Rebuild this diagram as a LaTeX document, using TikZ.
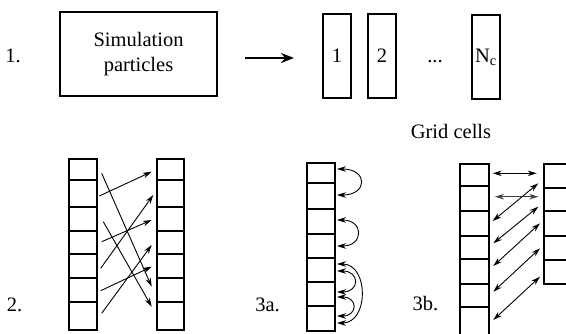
\documentclass[tikz,border=0pt]{standalone}
\usepackage{fontspec}
\setmainfont{Liberation Serif}
\usetikzlibrary{arrows.meta}
\begin{document}
\begin{tikzpicture}[x=1pt,y=-1pt,
  lbl/.style={font=\fontsize{20.5}{25}\selectfont, inner sep=0pt},
  cellbox/.style={draw, line width=1.8pt},
  arr/.style={line width=0.9pt, -{Stealth[length=9pt,width=5.5pt]}},
  darr/.style={line width=0.9pt, {Stealth[length=9pt,width=5.5pt]}-{Stealth[length=9pt,width=5.5pt]}},
]
\useasboundingbox (0,0) rectangle (566,333);
\clip (0,0) rectangle (566,333);

% ---- row 1
\node[lbl] (l1) at (13,56) {1.};
\node[cellbox, lbl, minimum width=157pt, minimum height=84pt, align=center] (sim) at (138.5,54) {Simulation\\particles};
\coordinate (a1) at (245,58);
\coordinate (a2) at (294,58);
\draw[line width=1.8pt, -{Stealth[length=13pt,width=10pt]}] (a1) -- (a2);
\node[cellbox, lbl, minimum width=28pt, minimum height=84pt] (c1) at (337,56) {1};
\node[cellbox, lbl, minimum width=28pt, minimum height=84pt] (c2) at (382,56) {2};
\node[lbl] (dots) at (435,62) {...};
\node[cellbox, lbl, minimum width=28pt, minimum height=84pt] (cN) at (486,57) {N\textsubscript{c}};
\node[lbl] (gc) at (451,131) {Grid cells};

% ---- panel 2
\node[lbl] (l2) at (14.5,305) {2.};
\foreach \a/\b in {159/180,180/207,207/231,231/254,254/278,278/302,302/330}{
  \draw[cellbox] (69,\a) rectangle (97,\b);
  \draw[cellbox] (157,\a) rectangle (184,\b);
}
\foreach \sx/\sy/\ex/\ey in {99.3/196/151.7/171.7, 100.7/268.3/153.3/195, 101.7/241.7/151.7/220,
  101.7/313.3/151.7/245, 100.7/290.7/151.7/266.7, 101.7/173.3/151.7/286.7, 103.3/221.7/151.7/306.7}{
  \draw[arr] (\sx,\sy) -- (\ex,\ey);
}

% ---- panel 3a
\node[lbl] (l3a) at (267.5,305) {3a.};
\foreach \a/\b in {163/183,183/209,209/234,234/258,258/282,282/306,306/331}{
  \draw[cellbox] (307,\a) rectangle (335,\b);
}
\foreach \ya/\yb/\d in {169/195/31, 220/246/27, 264/323/32, 271/292/23, 297/316/21}{
  \draw[darr] (337,\ya) .. controls (337+\d,\ya) and (337+\d,\yb) .. (337,\yb);
}

% ---- panel 3b
\node[lbl] (l3b) at (425.5,304) {3b.};
\foreach \a/\b in {164/186,186/211,211/236,236/259,259/284,284/307,307/345}{
  \draw[cellbox] (460,\a) rectangle (489,\b);
}
\foreach \a/\b in {164/188,188/211,211/236,236/260,260/284}{
  \draw[cellbox] (544,\a) rectangle (590,\b);
}
\draw[darr] (492.7,173.3) -- (536.7,173.3);
\draw[darr, line width=1.4pt, black!75] (495,196.7) -- (538.3,196.7);
\foreach \sx/\sy/\ex/\ey in {492.7/221/538.3/183.3, 493.3/243.3/538.3/206.7, 493.3/266/540/223.3,
  493.3/291.7/540/248.3, 493.3/320/540/276.7}{
  \draw[darr] (\sx,\sy) -- (\ex,\ey);
}
\end{tikzpicture}
\end{document}
